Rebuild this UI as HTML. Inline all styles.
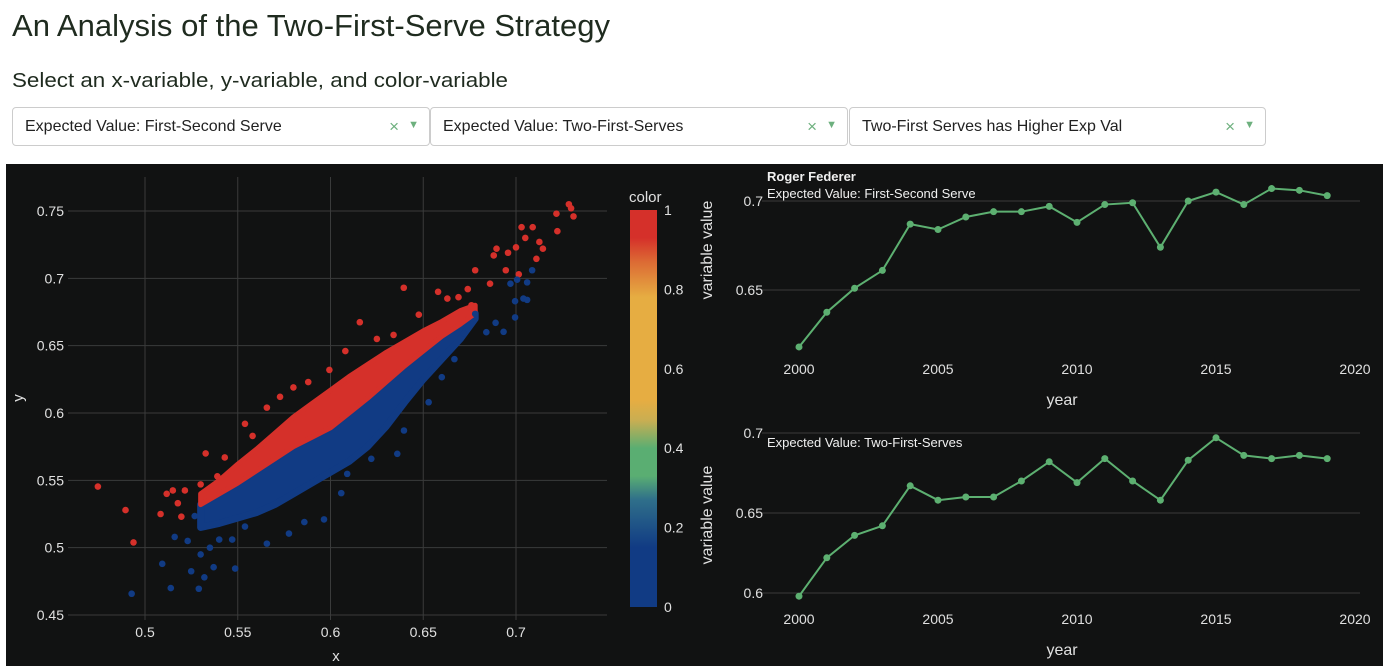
<!DOCTYPE html>
<html><head><meta charset="utf-8"><style>
html,body{margin:0;padding:0;background:#fff;width:1400px;height:672px;overflow:hidden;font-family:"Liberation Sans",sans-serif}
.dd{position:absolute;top:107px;height:39px;border:1px solid #ccc;border-radius:4px;background:#fff;box-sizing:border-box}
.dd span.t{position:absolute;left:12px;top:10px;font-size:16px;color:#222}
.dd span.x{position:absolute;right:30px;top:9px;font-size:17px;color:#6db07e}
.dd span.a{position:absolute;right:10px;top:11px;font-size:11px;color:#6db07e}
</style></head><body>
<svg width="1400" height="672" style="position:absolute;left:0;top:0">
<text x="12" y="36" font-size="31" fill="#1f2b1f" textLength="598" lengthAdjust="spacingAndGlyphs">An Analysis of the Two-First-Serve Strategy</text>
<text x="12" y="87" font-size="20" fill="#1f2b1f" textLength="496" lengthAdjust="spacingAndGlyphs">Select an x-variable, y-variable, and color-variable</text>
<rect x="6" y="164" width="1377" height="502" fill="#111212"/>
<g id="scatter"></g>
<g id="lines"></g>
</svg>
<div class="dd" style="left:12px;width:418px"><span class="t">Expected Value: First-Second Serve</span><span class="x">×</span><span class="a">▼</span></div>
<div class="dd" style="left:430px;width:418px"><span class="t">Expected Value: Two-First-Serves</span><span class="x">×</span><span class="a">▼</span></div>
<div class="dd" style="left:849px;width:417px"><span class="t">Two-First Serves has Higher Exp Val</span><span class="x">×</span><span class="a">▼</span></div>
<script>
const NS='http://www.w3.org/2000/svg';
// scatter data
const xTicks=[0.5,0.55,0.6,0.65,0.7];
const yTicks=[0.45,0.5,0.55,0.6,0.65,0.7,0.75];
const bandX=[0.53,0.54,0.55,0.56,0.57,0.58,0.59,0.60,0.61,0.62,0.63,0.64,0.65,0.66,0.67,0.678];
const bandTop=[0.540,0.550,0.562,0.573,0.585,0.597,0.607,0.617,0.627,0.636,0.645,0.653,0.661,0.668,0.676,0.680];
const bandMid=[0.532,0.540,0.548,0.557,0.566,0.575,0.582,0.589,0.600,0.611,0.623,0.635,0.646,0.657,0.666,0.674];
const bandLow=[0.515,0.518,0.522,0.526,0.532,0.540,0.548,0.556,0.564,0.575,0.590,0.608,0.625,0.640,0.655,0.670];
const redX=[0.4746,0.4895,0.4938,0.5084,0.5117,0.515,0.5177,0.5215,0.5196,0.530,0.5327,0.539,0.543,0.5539,0.558,0.5657,0.5728,0.580,0.588,0.5994,0.608,0.6158,0.625,0.634,0.6395,0.6476,0.658,0.663,0.669,0.674,0.678,0.686,0.6895,0.688,0.6957,0.6945,0.700,0.7015,0.703,0.705,0.709,0.7126,0.711,0.7145,0.7218,0.7223,0.7285,0.7297,0.731,0.676];
const redY=[0.5454,0.5279,0.5039,0.525,0.54,0.5425,0.533,0.5425,0.523,0.547,0.570,0.553,0.567,0.592,0.583,0.604,0.612,0.619,0.623,0.632,0.646,0.6674,0.655,0.658,0.693,0.673,0.690,0.685,0.686,0.692,0.706,0.696,0.722,0.717,0.719,0.706,0.723,0.703,0.738,0.730,0.738,0.727,0.7145,0.722,0.748,0.735,0.755,0.752,0.746,0.680];
const blueX=[0.4928,0.5093,0.5139,0.516,0.523,0.5249,0.530,0.529,0.532,0.535,0.537,0.5486,0.5268,0.540,0.547,0.5539,0.5657,0.5776,0.5859,0.5965,0.6058,0.609,0.622,0.636,0.6396,0.6529,0.660,0.6668,0.678,0.684,0.6933,0.6995,0.697,0.7006,0.6995,0.704,0.706,0.7087,0.706,0.689,0.672];
const blueY=[0.4658,0.488,0.470,0.508,0.505,0.4825,0.495,0.4695,0.478,0.500,0.4855,0.4845,0.5235,0.506,0.506,0.5157,0.503,0.5105,0.519,0.521,0.5405,0.5548,0.566,0.5697,0.587,0.608,0.6266,0.640,0.6736,0.660,0.6603,0.671,0.696,0.699,0.683,0.685,0.684,0.706,0.697,0.667,0.659];
const cbTicks=[0,0.2,0.4,0.6,0.8,1];
// line data
const years=[2000,2001,2002,2003,2004,2005,2006,2007,2008,2009,2010,2011,2012,2013,2014,2015,2016,2017,2018,2019];
const evFirstSecond=[0.618,0.6375,0.651,0.661,0.687,0.684,0.691,0.694,0.694,0.697,0.688,0.698,0.699,0.674,0.700,0.705,0.698,0.707,0.706,0.703];
const evTwoFirst=[0.598,0.622,0.636,0.642,0.667,0.658,0.660,0.660,0.670,0.682,0.669,0.684,0.670,0.658,0.683,0.697,0.686,0.684,0.686,0.684];
const yearTicks=[2000,2005,2010,2015,2020];
const topTicks=[0.65,0.7];
const botTicks=[0.6,0.65,0.7];

function el(tag,attrs,parent,txt){const e=document.createElementNS(NS,tag);for(const k in attrs)e.setAttribute(k,attrs[k]);if(txt!==undefined)e.textContent=txt;parent.appendChild(e);return e;}
const sc=document.getElementById('scatter');
const sx=v=>145+(v-0.5)*1855;
const sy=v=>211+(0.75-v)*1346.7;
xTicks.forEach(t=>{const l=el('line',{x1:sx(t),x2:sx(t),y1:177,y2:620,stroke:'#3a3b3b','stroke-width':1},sc);

const tx=el('text',{x:sx(t),y:637,'text-anchor':'middle','font-size':14,fill:'#e0e0e0'},sc,String(t));
});
yTicks.forEach(t=>{const l=el('line',{x1:68,x2:607,y1:sy(t),y2:sy(t),stroke:'#3a3b3b','stroke-width':1},sc);

const tx=el('text',{x:64,y:sy(t)+5,'text-anchor':'end','font-size':14,fill:'#e0e0e0'},sc,String(t));
});
let t1=el('text',{x:336,y:661,'text-anchor':'middle','font-size':15,fill:'#e0e0e0'},sc,'x');

let t2=el('text',{x:23,y:398,'text-anchor':'middle','font-size':15,fill:'#e0e0e0',transform:'rotate(-90 23 398)'},sc,'y');

function bandPath(a,b){let p='';bandX.forEach((x,i)=>{p+=(i?'L':'M')+sx(x)+','+sy(a[i]);});for(let i=bandX.length-1;i>=0;i--)p+='L'+sx(bandX[i])+','+sy(b[i]);return p+'Z';}
let bb=el('path',{d:bandPath(bandMid,bandLow),fill:'#113b84',stroke:'#113b84','stroke-width':7,'stroke-linejoin':'round'},sc);

let rb=el('path',{d:bandPath(bandTop,bandMid),fill:'#d5302a',stroke:'#d5302a','stroke-width':5,'stroke-linejoin':'round'},sc);

redX.forEach((x,i)=>{const c=el('circle',{cx:sx(x),cy:sy(redY[i]),r:3.3,fill:'#d5302a'},sc);
});
blueX.forEach((x,i)=>{const c=el('circle',{cx:sx(x),cy:sy(blueY[i]),r:3.3,fill:'#113b84'},sc);
});
const defs=el('defs',{},sc);
const g=el('linearGradient',{id:'cb',x1:0,y1:1,x2:0,y2:0},defs);
[[0,'#113b84'],[0.15,'#113b84'],[0.27,'#2f6f8a'],[0.33,'#5aae72'],[0.40,'#5aae72'],[0.47,'#c9ae52'],[0.52,'#e6ad42'],[0.78,'#e6ad42'],[0.87,'#dc6a34'],[0.93,'#d5302a'],[1,'#d5302a']].forEach(s=>el('stop',{offset:s[0],'stop-color':s[1]},g));
const cby=v=>607-v*397;
let cb=el('rect',{x:630,y:cby(1),width:27,height:397,fill:'url(#cb)'},sc);

let ct=el('text',{x:629,y:202,'font-size':15,fill:'#e0e0e0'},sc,'color');

cbTicks.forEach(t=>{const tx=el('text',{x:664,y:cby(t)+5,'font-size':14,fill:'#e0e0e0'},sc,String(t));
});

const lg=document.getElementById('lines');
const lx=v=>799+(v-2000)*27.8;
function lineChart(vals,ticks,yfn,gy0,gy1,tickY,titleY,ylabY,label,name){
  ticks.forEach(t=>{const l=el('line',{x1:762,x2:1360,y1:yfn(t),y2:yfn(t),stroke:'#3a3b3b'},lg);
  
  const tx=el('text',{x:763,y:yfn(t)+5,'text-anchor':'end','font-size':14,fill:'#e0e0e0'},lg,String(t));
  });
  yearTicks.forEach(t=>{const tx=el('text',{x:lx(t),y:tickY,'text-anchor':'middle','font-size':14,fill:'#e0e0e0'},lg,String(t));
  });
  const yt=el('text',{x:1062,y:titleY,'text-anchor':'middle','font-size':16,fill:'#e0e0e0'},lg,'year');
  
  const vt=el('text',{x:712,y:ylabY,'text-anchor':'middle','font-size':16,fill:'#e0e0e0',transform:'rotate(-90 712 '+ylabY+')'},lg,'variable value');
  
  const an=el('text',{x:767,y:gy0,'font-size':13,fill:'#f0f0f0'},lg,label);
  
  const pl=el('polyline',{points:years.map((y,i)=>lx(y)+','+yfn(vals[i])).join(' '),fill:'none',stroke:'#5db071','stroke-width':2},lg);
  
  years.forEach((y,i)=>{const c=el('circle',{cx:lx(y),cy:yfn(vals[i]),r:3.5,fill:'#5db071'},lg);
  });
}
const ty=v=>201+(0.7-v)*1780;
const by=v=>433+(0.7-v)*1600;
lineChart(evFirstSecond,topTicks,ty,198,0,374,405,250,'Expected Value: First-Second Serve','top-chart');
lineChart(evTwoFirst,botTicks,by,447,0,624,655,515,'Expected Value: Two-First-Serves','bottom-chart');
const rf=el('text',{x:767,y:181,'font-size':13,'font-weight':'bold',fill:'#f0f0f0'},lg,'Roger Federer');

</script>
</body></html>
